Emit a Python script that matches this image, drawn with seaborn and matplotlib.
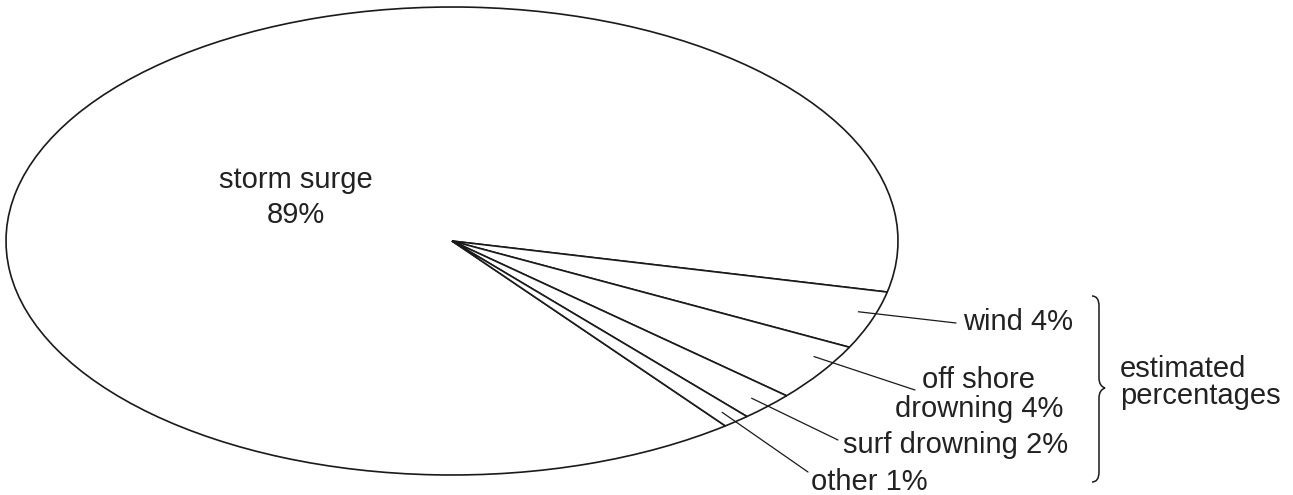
import numpy as np
import matplotlib
matplotlib.use("Agg")
import matplotlib.pyplot as plt
from matplotlib.path import Path
from matplotlib.patches import PathPatch
import seaborn as sns

# data (estimated percentages)
causes = ["storm surge", "wind", "off shore drowning", "surf drowning", "other"]
shares = [89, 4, 4, 2, 1]
label_lines = [["storm surge", "89%"], ["wind 4%"], ["off shore", "drowning 4%"],
               ["surf drowning 2%"], ["other 1%"]]

sns.set_theme(style="white")
plt.rcParams['font.family'] = ['Liberation Sans', 'DejaVu Sans']

W, H = 1293, 495
INK = "#1a1a1a"
TXT = "#222222"

fig = plt.figure(figsize=(W / 100, H / 100), dpi=100)
fig.patch.set_facecolor("white")

# pie is squashed into an ellipse
ax = fig.add_axes([6 / W, (H - 475) / H, 892 / W, 468 / H])
wedges, _ = ax.pie(shares, colors=["white"] * len(shares), startangle=307.8,
                   counterclock=False, radius=1,
                   wedgeprops=dict(edgecolor=INK, linewidth=1.2))
ax.set_aspect("auto")
ax.set_xlim(-1, 1)
ax.set_ylim(-1, 1)
ax.axis("off")


def px(x, y):
    return (x / W, 1 - y / H)


# leader lines: where in the wedge they start (fraction across the wedge, radius)
# and where they end in pixels; text baselines in pixels
leader_start = {1: (0.60, 0.96), 2: (0.70, 0.95), 3: (0.5, 0.95), 4: (0.5, 0.95)}
leader_end = {1: (956, 323), 2: (915, 390), 3: (838, 440), 4: (808, 472)}
text_spots = {
    0: [(296, 188, "center"), (296, 223, "center")],
    1: [(963, 330, "left")],
    2: [(979, 388, "center"), (979, 417, "center")],
    3: [(843, 453, "left")],
    4: [(811, 490, "left")],
}

for i, w in enumerate(wedges):
    if i in leader_end:
        frac, r = leader_start[i]
        ang = np.deg2rad(w.theta1 + frac * (w.theta2 - w.theta1))
        ax.annotate("", xy=(r * np.cos(ang), r * np.sin(ang)), xycoords="data",
                    xytext=px(*leader_end[i]), textcoords="figure fraction",
                    arrowprops=dict(arrowstyle="-", color=INK, lw=0.9,
                                    shrinkA=0, shrinkB=0))
    for (x, y, ha), line in zip(text_spots[i], label_lines[i]):
        fig.text(*px(x, y), line, ha=ha, va="baseline", fontsize=21, color=TXT)

# curly brace grouping the small causes
ov = fig.add_axes([0, 0, 1, 1])
ov.set_xlim(0, W)
ov.set_ylim(H, 0)
ov.axis("off")
verts = [(1092, 296), (1099, 296), (1099, 306),
         (1099, 378),
         (1099, 386), (1105, 388),
         (1099, 390), (1099, 398),
         (1099, 472),
         (1099, 482), (1092, 482)]
codes = [Path.MOVETO, Path.CURVE3, Path.CURVE3,
         Path.LINETO,
         Path.CURVE3, Path.CURVE3,
         Path.CURVE3, Path.CURVE3,
         Path.LINETO,
         Path.CURVE3, Path.CURVE3]
ov.add_patch(PathPatch(Path(verts, codes), facecolor="none", edgecolor=INK, lw=1.1))
ov.text(1120, 377, "estimated", ha="left", va="baseline", fontsize=21, color=TXT)
ov.text(1120, 404, "percentages", ha="left", va="baseline", fontsize=21, color=TXT)

fig.savefig("out.png", dpi=100, facecolor="white")
